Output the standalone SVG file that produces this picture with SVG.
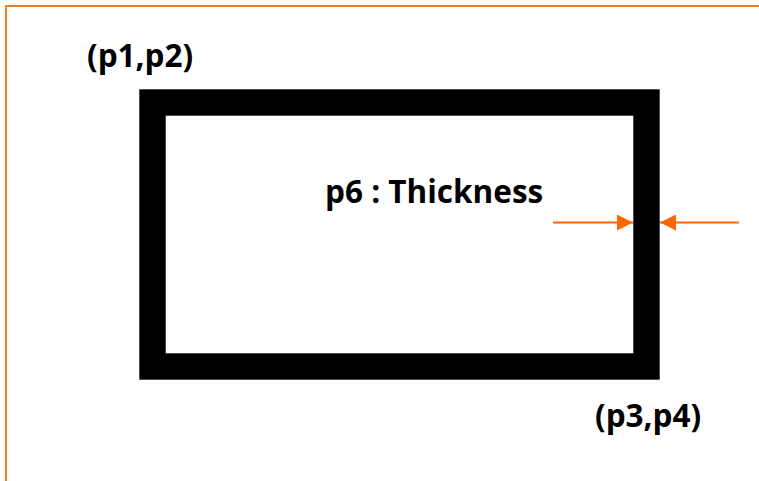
<svg xmlns="http://www.w3.org/2000/svg" width="759" height="481" viewBox="0 0 759 481">
  <defs>
    <style>
      .frame { fill: none; stroke: #F07E26; stroke-width: 2; }
      .wall { fill: none; stroke: #000; stroke-width: 26.4; }
      .lbl { font-family: "Open Sans", "Noto Sans", "Liberation Sans", sans-serif; font-weight: 700; font-size: 31.5px; fill: #000; }
      .dim { stroke: #FF6600; stroke-width: 2; fill: none; marker-end: url(#tip); }
    </style>
    <marker id="tip" viewBox="0 0 16 16" refX="16" refY="8" markerWidth="16" markerHeight="16" markerUnits="userSpaceOnUse" orient="auto">
      <path d="M0,0 L16,8 L0,16 Z" fill="#FF6600"/>
    </marker>
  </defs>

  <rect width="759" height="481" fill="#fff"/>
  <rect class="frame" x="6" y="6" width="780" height="500"/>

  <g id="shape">
    <rect class="wall" x="152.5" y="102.5" width="494" height="264"/>
  </g>

  <g id="label-p1p2">
    <text class="lbl" x="87" y="67">(p1,p2)</text>
  </g>
  <g id="label-p3p4">
    <text class="lbl" x="595" y="427">(p3,p4)</text>
  </g>
  <g id="label-thickness">
    <text class="lbl" x="325" y="202.5">p6 : Thickness</text>
  </g>

  <g id="connectors">
    <line class="dim" x1="553" y1="222.5" x2="633" y2="222.5"/>
    <line class="dim" x1="739" y1="222.5" x2="660" y2="222.5"/>
  </g>
</svg>
